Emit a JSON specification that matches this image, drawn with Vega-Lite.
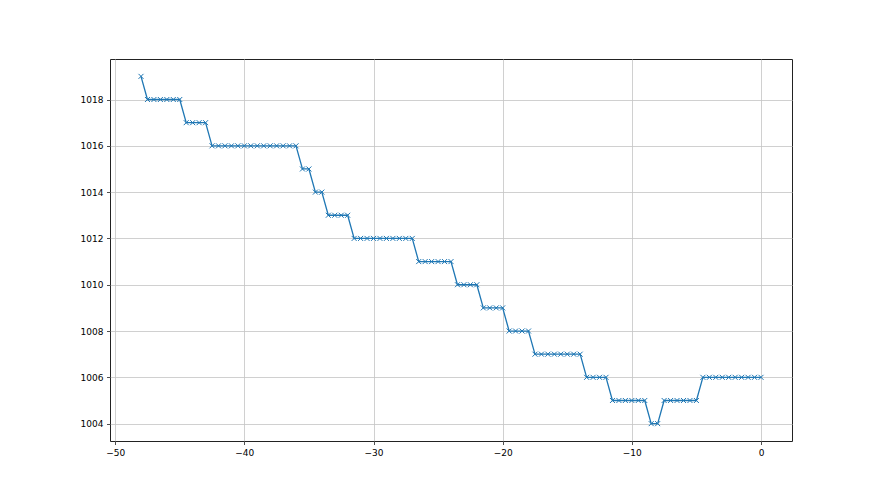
{
  "$schema": "https://vega.github.io/schema/vega-lite/v6.json",
  "width": 682,
  "height": 382,
  "autosize": "none",
  "padding": {"left": 110, "top": 59, "right": 88, "bottom": 54},
  "background": "white",
  "config": {
    "view": {"stroke": "#222222", "strokeWidth": 1},
    "axis": {
      "labelFont": "DejaVu Sans",
      "labelFontSize": 9,
      "labelColor": "black",
      "gridColor": "#c4c4c4",
      "gridWidth": 0.8,
      "tickColor": "#222222",
      "tickSize": 3.5,
      "tickWidth": 0.8,
      "domain": false,
      "labelPadding": 3.5,
      "title": null
    }
  },
  "data": {
    "values": [
      {"t": -48, "p": 1019},
      {"t": -47.5, "p": 1018}, {"t": -47, "p": 1018}, {"t": -46.5, "p": 1018}, {"t": -46, "p": 1018}, {"t": -45.5, "p": 1018}, {"t": -45, "p": 1018},
      {"t": -44.5, "p": 1017}, {"t": -44, "p": 1017}, {"t": -43.5, "p": 1017}, {"t": -43, "p": 1017},
      {"t": -42.5, "p": 1016}, {"t": -42, "p": 1016}, {"t": -41.5, "p": 1016}, {"t": -41, "p": 1016}, {"t": -40.5, "p": 1016}, {"t": -40, "p": 1016}, {"t": -39.5, "p": 1016}, {"t": -39, "p": 1016}, {"t": -38.5, "p": 1016}, {"t": -38, "p": 1016}, {"t": -37.5, "p": 1016}, {"t": -37, "p": 1016}, {"t": -36.5, "p": 1016}, {"t": -36, "p": 1016},
      {"t": -35.5, "p": 1015}, {"t": -35, "p": 1015},
      {"t": -34.5, "p": 1014}, {"t": -34, "p": 1014},
      {"t": -33.5, "p": 1013}, {"t": -33, "p": 1013}, {"t": -32.5, "p": 1013}, {"t": -32, "p": 1013},
      {"t": -31.5, "p": 1012}, {"t": -31, "p": 1012}, {"t": -30.5, "p": 1012}, {"t": -30, "p": 1012}, {"t": -29.5, "p": 1012}, {"t": -29, "p": 1012}, {"t": -28.5, "p": 1012}, {"t": -28, "p": 1012}, {"t": -27.5, "p": 1012}, {"t": -27, "p": 1012},
      {"t": -26.5, "p": 1011}, {"t": -26, "p": 1011}, {"t": -25.5, "p": 1011}, {"t": -25, "p": 1011}, {"t": -24.5, "p": 1011}, {"t": -24, "p": 1011},
      {"t": -23.5, "p": 1010}, {"t": -23, "p": 1010}, {"t": -22.5, "p": 1010}, {"t": -22, "p": 1010},
      {"t": -21.5, "p": 1009}, {"t": -21, "p": 1009}, {"t": -20.5, "p": 1009}, {"t": -20, "p": 1009},
      {"t": -19.5, "p": 1008}, {"t": -19, "p": 1008}, {"t": -18.5, "p": 1008}, {"t": -18, "p": 1008},
      {"t": -17.5, "p": 1007}, {"t": -17, "p": 1007}, {"t": -16.5, "p": 1007}, {"t": -16, "p": 1007}, {"t": -15.5, "p": 1007}, {"t": -15, "p": 1007}, {"t": -14.5, "p": 1007}, {"t": -14, "p": 1007},
      {"t": -13.5, "p": 1006}, {"t": -13, "p": 1006}, {"t": -12.5, "p": 1006}, {"t": -12, "p": 1006},
      {"t": -11.5, "p": 1005}, {"t": -11, "p": 1005}, {"t": -10.5, "p": 1005}, {"t": -10, "p": 1005}, {"t": -9.5, "p": 1005}, {"t": -9, "p": 1005},
      {"t": -8.5, "p": 1004}, {"t": -8, "p": 1004},
      {"t": -7.5, "p": 1005}, {"t": -7, "p": 1005}, {"t": -6.5, "p": 1005}, {"t": -6, "p": 1005}, {"t": -5.5, "p": 1005}, {"t": -5, "p": 1005},
      {"t": -4.5, "p": 1006}, {"t": -4, "p": 1006}, {"t": -3.5, "p": 1006}, {"t": -3, "p": 1006}, {"t": -2.5, "p": 1006}, {"t": -2, "p": 1006}, {"t": -1.5, "p": 1006}, {"t": -1, "p": 1006}, {"t": -0.5, "p": 1006}, {"t": 0, "p": 1006}
    ]
  },
  "encoding": {
    "x": {
      "field": "t", "type": "quantitative",
      "scale": {"domain": [-50.4, 2.4], "nice": false, "zero": false},
      "axis": {"values": [-50, -40, -30, -20, -10, 0], "format": "d"}
    },
    "y": {
      "field": "p", "type": "quantitative",
      "scale": {"domain": [1003.25, 1019.75], "nice": false, "zero": false},
      "axis": {"values": [1004, 1006, 1008, 1010, 1012, 1014, 1016, 1018], "format": "d"}
    }
  },
  "layer": [
    {"mark": {"type": "line", "color": "#1f77b4", "strokeWidth": 1.3}},
    {"mark": {"type": "point", "shape": "M-1,-1L1,1M-1,1L1,-1", "filled": false, "stroke": "#1f77b4", "strokeWidth": 1, "size": 25, "opacity": 1}}
  ]
}
